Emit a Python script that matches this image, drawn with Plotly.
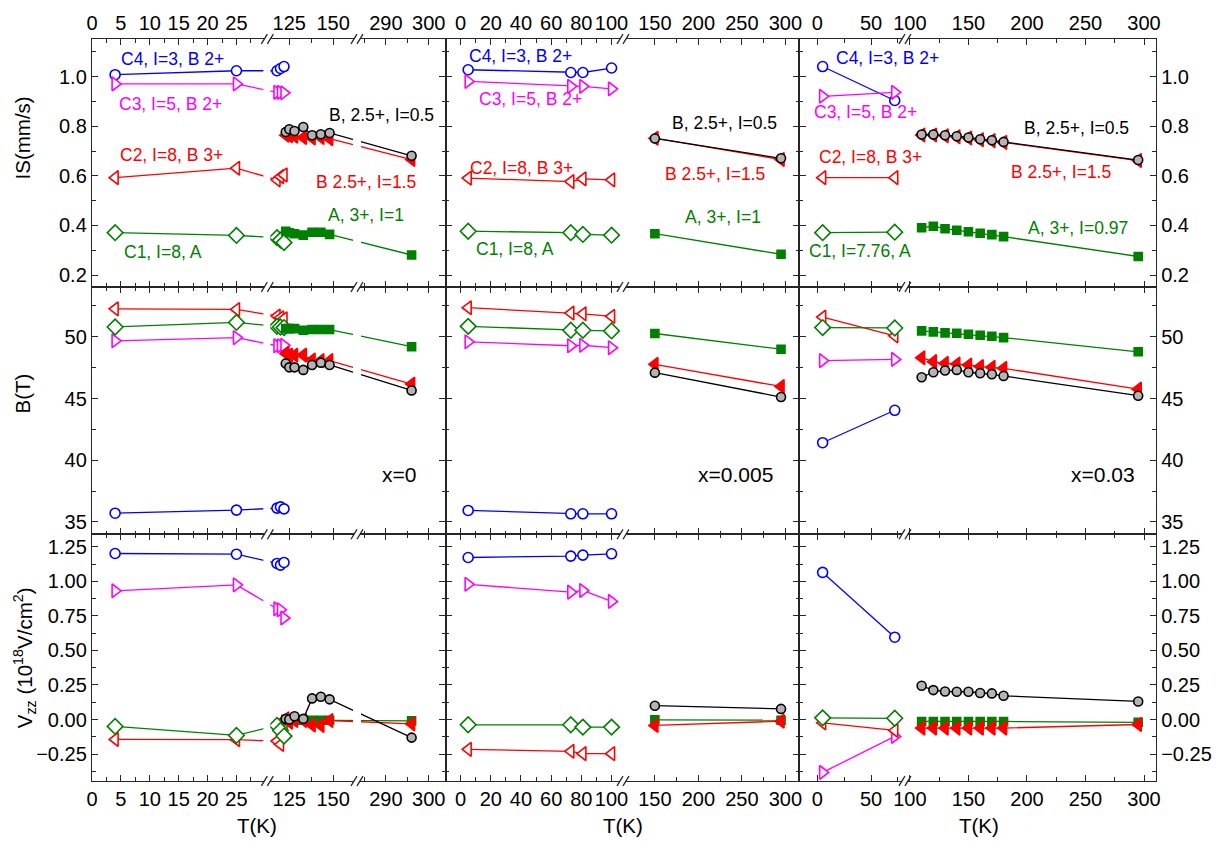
import plotly.graph_objects as go

# ---------------- data ----------------
# temperatures (K)
T_X0_C = [4, 25, 118, 120, 122]
T_X0_B = [123, 125, 128, 133, 138, 143, 148, 296]
T_X1_C = [5, 73, 81, 100]
T_X1_B = [150, 295]
T_X2_C = [5, 72]
T_X2_B = [110, 120, 130, 140, 150, 160, 170, 180, 295]

# x = 0 : isomer shift (mm/s)
IS_X0_C4 = [1.008, 1.024, 1.024, 1.033, 1.041]
IS_X0_C3 = [0.971, 0.971, 0.937, 0.937, 0.935]
IS_X0_C2 = [0.593, 0.631, 0.584, 0.597, 0.604]
IS_X0_C1 = [0.371, 0.360, 0.351, 0.341, 0.331]
IS_X0_B05 = [0.777, 0.788, 0.781, 0.797, 0.764, 0.768, 0.773, 0.681]
IS_X0_B15 = [0.764, 0.762, 0.760, 0.755, 0.753, 0.755, 0.750, 0.666]
IS_X0_A = [0.377, 0.371, 0.367, 0.361, 0.373, 0.373, 0.364, 0.281]
# x = 0 : hyperfine field (T)
BF_X0_C4 = [35.71, 35.96, 36.12, 36.22, 36.06]
BF_X0_C3 = [49.68, 49.94, 49.28, 49.28, 49.32]
BF_X0_C2 = [52.27, 52.22, 51.69, 51.55, 51.47]
BF_X0_C1 = [50.80, 51.17, 50.85, 50.80, 50.75]
BF_X0_B05 = [47.85, 47.53, 47.53, 47.32, 47.72, 47.91, 47.72, 45.66]
BF_X0_B15 = [48.66, 48.52, 48.52, 48.52, 48.12, 48.07, 48.07, 46.17]
BF_X0_A = [50.67, 50.67, 50.67, 50.53, 50.59, 50.59, 50.59, 49.20]
# x = 0 : Vzz (1e18 V/cm2)
VZ_X0_C4 = [1.202, 1.197, 1.130, 1.118, 1.137]
VZ_X0_C3 = [0.932, 0.975, 0.802, 0.795, 0.735]
VZ_X0_C2 = [-0.144, -0.146, -0.156, -0.180, -0.060]
VZ_X0_C1 = [-0.050, -0.115, -0.043, -0.079, -0.120]
VZ_X0_B05 = [0.005, 0.000, 0.024, 0.005, 0.153, 0.165, 0.146, -0.131]
VZ_X0_B15 = [0.005, -0.020, -0.007, -0.007, -0.040, -0.043, -0.007, -0.031]
VZ_X0_A = [0.000, -0.005, -0.005, -0.005, -0.005, -0.005, -0.005, -0.010]

# x = 0.005
IS_X1_C4 = [1.028, 1.017, 1.017, 1.035]
IS_X1_C3 = [0.981, 0.961, 0.961, 0.951]
IS_X1_C2 = [0.591, 0.577, 0.588, 0.584]
IS_X1_C1 = [0.377, 0.371, 0.364, 0.361]
IS_X1_B05 = [0.751, 0.671]
IS_X1_B15 = [0.752, 0.666]
IS_X1_A = [0.367, 0.284]
BF_X1_C4 = [35.93, 35.66, 35.66, 35.66]
BF_X1_C3 = [49.60, 49.28, 49.32, 49.12]
BF_X1_C2 = [52.36, 51.93, 51.87, 51.66]
BF_X1_C1 = [50.85, 50.53, 50.53, 50.48]
BF_X1_B05 = [47.10, 45.12]
BF_X1_B15 = [47.77, 45.98]
BF_X1_A = [50.27, 49.00]
VZ_X1_C4 = [1.173, 1.183, 1.190, 1.200]
VZ_X1_C3 = [0.979, 0.922, 0.934, 0.855]
VZ_X1_C2 = [-0.216, -0.230, -0.247, -0.247]
VZ_X1_C1 = [-0.038, -0.038, -0.055, -0.055]
VZ_X1_B05 = [0.100, 0.077]
VZ_X1_B15 = [-0.043, -0.012]
VZ_X1_A = [-0.002, -0.005]

# x = 0.03
IS_X2_C4 = [1.041, 0.904]
IS_X2_C3 = [0.921, 0.937]
IS_X2_C2 = [0.593, 0.593]
IS_X2_C1 = [0.371, 0.373]
IS_X2_B05 = [0.767, 0.767, 0.764, 0.760, 0.755, 0.748, 0.744, 0.737, 0.664]
IS_X2_B15 = [0.765, 0.765, 0.762, 0.758, 0.753, 0.746, 0.742, 0.735, 0.662]
IS_X2_A = [0.391, 0.397, 0.387, 0.381, 0.375, 0.369, 0.363, 0.355, 0.275]
BF_X2_C4 = [41.42, 44.05]
BF_X2_C3 = [48.07, 48.17]
BF_X2_C2 = [51.60, 50.08]
BF_X2_C1 = [50.75, 50.72]
BF_X2_B05 = [46.73, 47.13, 47.27, 47.32, 47.13, 47.05, 46.97, 46.83, 45.23]
BF_X2_B15 = [48.31, 47.99, 47.85, 47.80, 47.72, 47.59, 47.53, 47.45, 45.76]
BF_X2_A = [50.48, 50.40, 50.32, 50.29, 50.21, 50.13, 50.05, 49.94, 48.79]
VZ_X2_C4 = [1.065, 0.596]
VZ_X2_C3 = [-0.383, -0.122]
VZ_X2_C2 = [-0.024, -0.079]
VZ_X2_C1 = [0.012, 0.009]
VZ_X2_B05 = [0.244, 0.213, 0.203, 0.201, 0.201, 0.192, 0.189, 0.172, 0.131]
VZ_X2_B15 = [-0.062, -0.062, -0.062, -0.062, -0.062, -0.062, -0.062, -0.062, -0.036]
VZ_X2_A = [-0.014, -0.014, -0.014, -0.014, -0.014, -0.014, -0.014, -0.014, -0.020]

# axis tick labels (broken T axes)
TICKS_X0 = [0, 5, 10, 15, 20, 25, 125, 150, 290, 300]
TICKS_X1 = [0, 20, 40, 60, 80, 100, 150, 200, 250, 300]
TICKS_X2 = [0, 50, 100, 150, 200, 250, 300]
MINOR_X0 = [2.5, 7.5, 12.5, 17.5, 22.5, 27.5, 137.5, 285, 295]
MINOR_X1 = [10, 30, 50, 70, 90, 175, 225, 275]
MINOR_X2 = [25, 75, 125, 175, 225, 275]

SAMPLE_LABELS = ["x=0", "x=0.005", "x=0.03"]

# ---------------- layout geometry ----------------
W, H = 1224, 842
PL, PR, PT, PB = 92, 1160, 33, 781
COL_PX = [92, 447, 802, 1160]
ROW_PX = [33, 283, 532.3, 781]
# broken-axis segments per column: (px_start, px_end, t_a, px_a, t_b, px_b)
SEGS = [
    [(92, 268, 0, 92, 25, 237), (268, 358, 125, 290, 150, 334), (358, 447, 290, 387, 300, 430)],
    [(447, 625, 0, 462, 100, 613.5), (625, 802, 150, 657, 300, 788)],
    [(802, 908, 0, 820, 50, 874), (908, 1160, 100, 913, 300, 1148)],
]
BREAKS = [[268, 358], [625], [908]]
YRANGES = [[0.152, 1.152], [34.0, 54.04], [-0.445, 1.341]]
YTICKS = [[0.2, 0.4, 0.6, 0.8, 1.0], [35, 40, 45, 50],
          [-0.25, 0.0, 0.25, 0.5, 0.75, 1.0, 1.25]]
YMINOR = [[0.3, 0.5, 0.7, 0.9, 1.1], [37.5, 42.5, 47.5, 52.5],
          [-0.375, -0.125, 0.125, 0.375, 0.625, 0.875, 1.125]]
YFMT = [".1f", "d", ".2f"]


def seg_t(seg, px):
    p0, p1, ta, pa, tb, pb = seg
    return ta + (px - pa) * (tb - ta) / (pb - pa)


def t_to_px(col, t):
    for seg in SEGS[col]:
        p0, p1, ta, pa, tb, pb = seg
        if seg_t(seg, p0) - 1e-6 <= t <= seg_t(seg, p1) + 1e-6:
            return pa + (t - ta) * (pb - pa) / (tb - ta)
    return None


def px2paper_x(px):
    return (px - PL) / (PR - PL)


def px2paper_y(py):
    return 1 - (py - PT) / (PB - PT)


BLUE, MAG, RED, GREEN, BLACK = "#0000ff", "#ff00ff", "#ff0000", "#008000", "#000000"
STYLE = {
    "C4": dict(symbol="circle", line=BLUE, fill="white", size=10),
    "C3": dict(symbol="triangle-right", line=MAG, fill="white", size=12),
    "C2": dict(symbol="triangle-left", line=RED, fill="white", size=12),
    "C1": dict(symbol="diamond", line=GREEN, fill="white", size=12),
    "B15": dict(symbol="triangle-left", line=RED, fill=RED, size=12),
    "A": dict(symbol="square", line=GREEN, fill=GREEN, size=8),
    "B05": dict(symbol="circle", line=BLACK, fill="#b4b4b4", size=9),
}
LINECOL = {"C4": BLUE, "C3": MAG, "C2": RED, "C1": GREEN, "B15": RED, "A": GREEN, "B05": BLACK}

COLS = [
    (T_X0_C, T_X0_B, {
        "IS": dict(C4=IS_X0_C4, C3=IS_X0_C3, C2=IS_X0_C2, C1=IS_X0_C1, A=IS_X0_A, B15=IS_X0_B15, B05=IS_X0_B05),
        "BF": dict(C4=BF_X0_C4, C3=BF_X0_C3, C2=BF_X0_C2, C1=BF_X0_C1, A=BF_X0_A, B15=BF_X0_B15, B05=BF_X0_B05),
        "VZ": dict(C4=VZ_X0_C4, C3=VZ_X0_C3, C2=VZ_X0_C2, C1=VZ_X0_C1, A=VZ_X0_A, B15=VZ_X0_B15, B05=VZ_X0_B05),
    }),
    (T_X1_C, T_X1_B, {
        "IS": dict(C4=IS_X1_C4, C3=IS_X1_C3, C2=IS_X1_C2, C1=IS_X1_C1, A=IS_X1_A, B15=IS_X1_B15, B05=IS_X1_B05),
        "BF": dict(C4=BF_X1_C4, C3=BF_X1_C3, C2=BF_X1_C2, C1=BF_X1_C1, A=BF_X1_A, B15=BF_X1_B15, B05=BF_X1_B05),
        "VZ": dict(C4=VZ_X1_C4, C3=VZ_X1_C3, C2=VZ_X1_C2, C1=VZ_X1_C1, A=VZ_X1_A, B15=VZ_X1_B15, B05=VZ_X1_B05),
    }),
    (T_X2_C, T_X2_B, {
        "IS": dict(C4=IS_X2_C4, C3=IS_X2_C3, C2=IS_X2_C2, C1=IS_X2_C1, A=IS_X2_A, B15=IS_X2_B15, B05=IS_X2_B05),
        "BF": dict(C4=BF_X2_C4, C3=BF_X2_C3, C2=BF_X2_C2, C1=BF_X2_C1, A=BF_X2_A, B15=BF_X2_B15, B05=BF_X2_B05),
        "VZ": dict(C4=VZ_X2_C4, C3=VZ_X2_C3, C2=VZ_X2_C2, C1=VZ_X2_C1, A=VZ_X2_A, B15=VZ_X2_B15, B05=VZ_X2_B05),
    }),
]
TICKS = [TICKS_X0, TICKS_X1, TICKS_X2]
MINORS = [MINOR_X0, MINOR_X1, MINOR_X2]
ROWKEYS = ["IS", "BF", "VZ"]
ORDER = ["C4", "C3", "C2", "C1", "A", "B15", "B05"]

FONT = "Arial, Liberation Sans, sans-serif"
FRAME = "#262626"
TICKFONT = 20

fig = go.Figure()
layout = dict(
    width=W, height=H, margin=dict(l=PL, r=W - PR, t=PT, b=H - PB),
    paper_bgcolor="white", plot_bgcolor="white", showlegend=False,
    font=dict(family=FONT, size=19, color="black"),
)

for r in range(3):
    for c in range(3):
        k = r * 3 + c + 1
        xn = "x" if k == 1 else f"x{k}"
        yn = "y" if k == 1 else f"y{k}"
        tC, tB, data = COLS[c]
        for key in ORDER:
            ts = tC if key.startswith("C") else tB
            vals = data[ROWKEYS[r]][key]
            st = STYLE[key]
            fig.add_trace(go.Scatter(
                x=[t_to_px(c, t) for t in ts], y=vals, customdata=ts,
                mode="lines+markers", xaxis=xn, yaxis=yn,
                line=dict(color=LINECOL[key], width=1.3),
                marker=dict(symbol=st["symbol"], size=st["size"], color=st["fill"],
                            line=dict(color=st["line"], width=1.6)),
                hovertemplate="T=%{customdata} K<br>%{y}<extra>" + key + "</extra>",
            ))
        # axes
        maj = [t_to_px(c, t) for t in TICKS[c]]
        mnr = [t_to_px(c, t) for t in MINORS[c] if t_to_px(c, t) is not None]
        xa = dict(
            domain=[px2paper_x(COL_PX[c]), px2paper_x(COL_PX[c + 1])],
            range=[COL_PX[c], COL_PX[c + 1]], anchor=yn,
            tickmode="array", tickvals=maj, ticktext=[str(t) for t in TICKS[c]],
            tickangle=0,
            ticks="inside", ticklen=6, tickwidth=1.3, tickcolor=FRAME,
            minor=dict(tickvals=mnr, ticks="inside", ticklen=3.5, tickwidth=1.2, tickcolor=FRAME),
            showline=True, linecolor=FRAME, linewidth=1.4, mirror="ticks",
            showgrid=False, zeroline=False, fixedrange=True,
            showticklabels=(r != 1), side="top" if r == 0 else "bottom",
            tickfont=dict(size=TICKFONT),
        )
        ya = dict(
            domain=[px2paper_y(ROW_PX[r + 1]), px2paper_y(ROW_PX[r])],
            range=YRANGES[r], anchor=xn,
            tickmode="array", tickvals=YTICKS[r], tickformat=YFMT[r],
            ticks="inside", ticklen=6, tickwidth=1.3, tickcolor=FRAME,
            minor=dict(tickvals=YMINOR[r], ticks="inside", ticklen=3.5, tickwidth=1.2, tickcolor=FRAME),
            showline=True, linecolor=FRAME, linewidth=1.4, mirror="ticks",
            showgrid=False, zeroline=False, fixedrange=True,
            showticklabels=(c != 1), side="right" if c == 2 else "left",
            tickfont=dict(size=TICKFONT),
        )
        layout["xaxis" if k == 1 else f"xaxis{k}"] = xa
        layout["yaxis" if k == 1 else f"yaxis{k}"] = ya

shapes = []
# gaps in the connecting lines at the axis breaks of the first panel column
for r in range(3):
    for (x0, x1) in [(264, 271), (354, 362)]:
        shapes.append(dict(type="rect", xref="paper", yref="paper", layer="above",
                           x0=px2paper_x(x0), x1=px2paper_x(x1),
                           y0=px2paper_y(ROW_PX[r + 1] - 2), y1=px2paper_y(ROW_PX[r] + 2),
                           fillcolor="white", line=dict(width=0)))
# break marks "//" on every horizontal frame line
for c in range(3):
    for bx in BREAKS[c]:
        for fy in ROW_PX:
            shapes.append(dict(type="rect", xref="paper", yref="paper", layer="above",
                               x0=px2paper_x(bx - 3), x1=px2paper_x(bx + 3),
                               y0=px2paper_y(fy + 1.5), y1=px2paper_y(fy - 1.5),
                               fillcolor="white", line=dict(width=0)))
            for dx in (-3, 3):
                shapes.append(dict(type="line", xref="paper", yref="paper", layer="above",
                                   x0=px2paper_x(bx + dx - 3), y0=px2paper_y(fy + 5),
                                   x1=px2paper_x(bx + dx + 3), y1=px2paper_y(fy - 5),
                                   line=dict(color=FRAME, width=1.3)))
layout["shapes"] = shapes

ann = []


def add_text(txt, px, py, color="black", size=17, angle=0):
    ann.append(dict(text=txt, x=px2paper_x(px), y=px2paper_y(py), xref="paper", yref="paper",
                    showarrow=False, font=dict(family=FONT, size=size, color=color),
                    textangle=angle, xanchor="center", yanchor="middle"))


# site labels in the IS panels
LABELS = [
    [("C4, I=3, B 2+", 173, 53, BLUE), ("C3, I=5, B 2+", 171, 99, MAG),
     ("B, 2.5+, I=0.5", 383, 110, BLACK), ("C2, I=8, B 3+", 172, 150, RED),
     ("B 2.5+, I=1.5", 367, 177, RED), ("A, 3+, I=1", 367, 210, GREEN),
     ("C1, I=8, A", 163, 248, GREEN)],
    [("C4, I=3, B 2+", 522, 50, BLUE), ("C3, I=5, B 2+", 532, 93, MAG),
     ("B, 2.5+, I=0.5", 727, 118, BLACK), ("C2, I=8, B 3+", 523, 163, RED),
     ("B 2.5+, I=1.5", 717, 169, RED), ("A, 3+, I=1", 725, 212, GREEN),
     ("C1, I=8, A", 517, 245, GREEN)],
    [("C4, I=3, B 2+", 890, 52, BLUE), ("C3, I=5, B 2+", 868, 107, MAG),
     ("B, 2.5+, I=0.5", 1080, 123, BLACK), ("C2, I=8, B 3+", 873, 152, RED),
     ("B 2.5+, I=1.5", 1065, 167, RED), ("A, 3+, I=0.97", 1082, 224, GREEN),
     ("C1, I=7.76, A", 863, 247, GREEN)],
]
for col in LABELS:
    for txt, px, py, colr in col:
        add_text(txt, px, py, colr, 17.5)

for txt, px in zip(SAMPLE_LABELS, [400, 738, 1107]):
    add_text(txt, px, 472, "black", 21)

add_text("IS(mm/s)", 22, 133, size=20.5, angle=-90)
add_text("B(T)", 22, 390, size=20.5, angle=-90)
add_text("V<sub>zz</sub> (10<sup>18</sup>V/cm<sup>2</sup>)", 25, 657, size=20.5, angle=-90)
for px in [258, 625, 982]:
    add_text("T(K)", px, 826, size=20.5)

layout["annotations"] = ann
fig.update_layout(**layout)
fig.write_html("out.html")
